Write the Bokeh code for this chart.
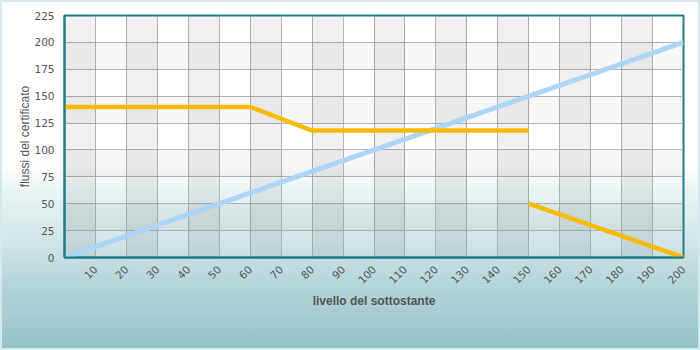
import math
from bokeh.plotting import figure
from bokeh.models import FixedTicker, Range1d
from bokeh.embed import file_html
from bokeh.resources import INLINE

# ---- data ----
x_ticks = [10, 20, 30, 40, 50, 60, 70, 80, 90, 100, 110, 120, 130, 140, 150,
           160, 170, 180, 190, 200]
y_ticks = [0, 25, 50, 75, 100, 125, 150, 175, 200, 225]

# lineare (sottostante)
blue_x = [0, 200]
blue_y = [0, 200]

# flussi del certificato
yellow1_x = [0, 60, 80, 150]
yellow1_y = [140, 140, 118, 118]
yellow2_x = [150, 200]
yellow2_y = [50, 0]

p = figure(width=700, height=350, output_backend="svg", toolbar_location=None,
           x_range=Range1d(0, 200), y_range=Range1d(0, 225),
           min_border_left=64, min_border_right=17, min_border_top=15,
           min_border_bottom=93)

p.styles = {
    "background": "linear-gradient(to bottom, #ffffff 0%, #ffffff 47%, #e9f3f4 55%, "
                  "#cfe4e6 70%, #b3d4d8 82%, #96c1c7 100%)",
    "box-shadow": "inset 0 0 0 2px #d4e9ec",
}
p.background_fill_alpha = 0
p.border_fill_alpha = 0

# column bands (every other 10-unit column, starting at 0)
all_x = [0] + x_ticks
col_left = all_x[0:-1:2]
col_right = all_x[1::2]
p.quad(left=col_left, right=col_right, bottom=y_ticks[0], top=y_ticks[-1],
       fill_color="#000000", fill_alpha=0.06, line_color=None)

# row bands
row_bottom = y_ticks[1:-1:2]
row_top = y_ticks[2::2]
p.quad(left=all_x[0], right=all_x[-1], bottom=row_bottom, top=row_top,
       fill_color="#000000", fill_alpha=0.03, line_color=None)

p.xgrid.ticker = FixedTicker(ticks=x_ticks)
p.ygrid.ticker = FixedTicker(ticks=y_ticks)
p.grid.grid_line_color = "#a8a8a8"
p.grid.grid_line_alpha = 0.85
p.grid.grid_line_width = 1

p.line(blue_x, blue_y, line_color="#acd5f9", line_width=5)
p.line(yellow1_x, yellow1_y, line_color="#f8bb00", line_width=4.5)
p.line(yellow2_x, yellow2_y, line_color="#f8bb00", line_width=4.5)

p.outline_line_color = "#1f7d8a"
p.outline_line_width = 2
p.outline_line_alpha = 1

for ax in (p.xaxis[0], p.yaxis[0]):
    ax.axis_line_color = "#1f7d8a"
    ax.axis_line_width = 2
    ax.major_tick_line_color = None
    ax.minor_tick_line_color = None
    ax.major_label_text_font = "DejaVu Sans"
    ax.major_label_text_font_size = "10.5px"
    ax.major_label_text_color = "#555555"
    ax.axis_label_text_color = "#555555"

p.xaxis.ticker = FixedTicker(ticks=x_ticks)
p.yaxis.ticker = FixedTicker(ticks=y_ticks)
p.xaxis.major_label_orientation = math.pi / 4
p.xaxis.major_label_standoff = 4
p.yaxis.major_label_standoff = 4

p.xaxis.axis_label = "livello del sottostante"
p.xaxis.axis_label_text_font = "Liberation Sans"
p.xaxis.axis_label_text_font_style = "bold"
p.xaxis.axis_label_text_font_size = "12px"
p.xaxis.axis_label_standoff = 4

p.yaxis.axis_label = "flussi del certificato"
p.yaxis.axis_label_text_font = "Liberation Sans"
p.yaxis.axis_label_text_font_style = "normal"
p.yaxis.axis_label_text_font_size = "12px"
p.yaxis.axis_label_standoff = -1

open("out.html", "w").write(file_html(p, INLINE))
